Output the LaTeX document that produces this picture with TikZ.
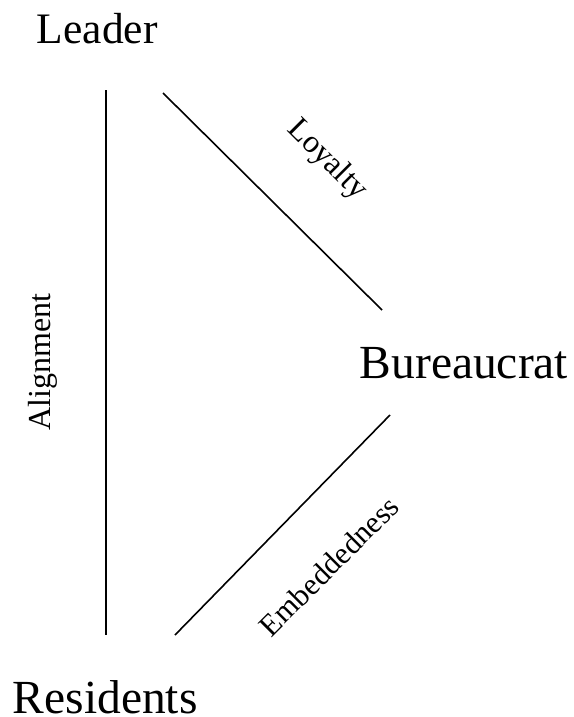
\documentclass[tikz,border=0pt]{standalone}
\usepackage{fontspec}
\setmainfont{Liberation Serif}
\tikzset{actor/.style={inner sep=0pt,anchor=base west,font=\fontsize{47.5}{50}\selectfont},
  tie/.style={inner sep=0pt,font=\fontsize{32}{36}\selectfont}}
\begin{document}
\begin{tikzpicture}[x=1pt,y=-1pt,line width=1.6pt]
\useasboundingbox (0,0) rectangle (573,717);
  \node[actor,font=\fontsize{43.5}{48}\selectfont] (leader) at (36,44) {Leader};
  \node[actor] (bureaucrat) at (359,378) {Bureaucrat};
  \node[actor] (residents) at (12,713) {Residents};
  \coordinate (a1) at (106,90);  \coordinate (a2) at (106,635);
  \coordinate (l1) at (163,93);  \coordinate (l2) at (382,310);
  \coordinate (e1) at (175,635); \coordinate (e2) at (390,415);
  \draw (a1) -- (a2);
  \draw (l1) -- (l2);
  \draw (e1) -- (e2);
  \node[tie,rotate=90] (alignment) at (43,362) {Alignment};
  \node[tie,rotate=-45] (loyalty) at (327,160) {Loyalty};
  \node[tie,rotate=45,font=\fontsize{30.5}{34}\selectfont] (embeddedness) at (329,566) {Embeddedness};
\end{tikzpicture}
\end{document}
